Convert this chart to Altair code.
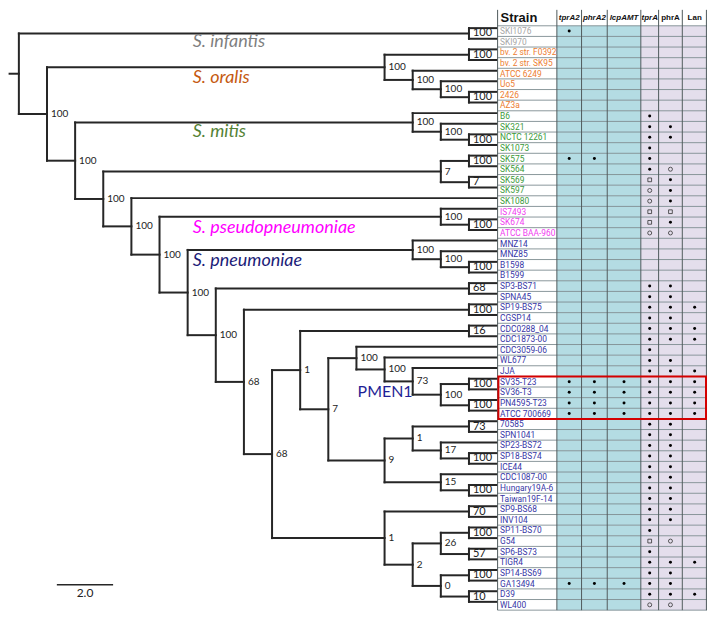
import altair as alt
import pandas as pd

# ------------------------------------------------------------------ data
STRAINS = [
    "SKI1076", "SKI970", "bv. 2 str. F0392", "bv. 2 str. SK95", "ATCC 6249", "Uo5",
    "2426", "AZ3a", "B6", "SK321", "NCTC 12261", "SK1073", "SK575", "SK564", "SK569",
    "SK597", "SK1080", "IS7493", "SK674", "ATCC BAA-960", "MNZ14", "MNZ85", "B1598",
    "B1599", "SP3-BS71", "SPNA45", "SP19-BS75", "CGSP14", "CDC0288_04", "CDC1873-00",
    "CDC3059-06", "WL677", "JJA", "SV35-T23", "SV36-T3", "PN4595-T23", "ATCC 700669",
    "70585", "SPN1041", "SP23-BS72", "SP18-BS74", "ICE44", "CDC1087-00",
    "Hungary19A-6", "Taiwan19F-14", "SP9-BS68", "INV104", "SP11-BS70", "G54",
    "SP6-BS73", "TIGR4", "SP14-BS69", "GA13494", "D39", "WL400",
]
SPECIES = ["S. infantis", "S. oralis", "S. mitis", "S. pseudopneumoniae", "S. pneumoniae"]
SPECIES_COUNTS = [2, 6, 9, 3, 35]

GENES = ["tprA2", "phrA2", "lcpAMT", "tprA", "phrA", "Lan"]
ITALIC_GENES = ["tprA2", "phrA2", "lcpAMT", "tprA"]
# x = filled dot, o = open circle, s = open square, . = absent
PRESENCE = [
    "x.....", "......", "......", "......", "......", "......", "......", "......",
    "...x..", "...xx.", "...xx.", "...x..", "xx.x..", "...xo.", "...sx.", "...ox.",
    "...ox.", "...ss.", "...sx.", "...oo.", "......", "......", "......", "......",
    "...xx.", "...xx.", "...xxx", "...xx.", "...xxx", "...xxx", "...x..", "...xx.",
    "...xxx", "xxxxxx", "xxxxxx", "xxxxxx", "xxxxxx", "...xx.", "...xx.", "...xx.",
    "...xx.", "...xx.", "...xx.", "...xx.", "...xx.", "...xx.", "...xx.", "...x..",
    "...so.", "...x..", "...xxx", "...xx.", "xxxxx.", "...xxx", "...oo.",
]

# tree: internal nodes (id, parent, depth, bootstrap support)
NODES = [
    ("R", None, 0, ""), ("inf", "R", 16, "100"), ("A", "R", 1, "100"),
    ("O1", "A", 13, "100"), ("or1", "O1", 16, "100"), ("O2", "O1", 14, "100"),
    ("O3", "O2", 15, "100"), ("or2", "O3", 16, "100"), ("B", "A", 2, "100"),
    ("M1", "B", 14, "100"), ("M2", "M1", 15, "100"), ("m1", "M2", 16, "100"),
    ("C", "B", 3, "100"), ("M3", "C", 15, "7"), ("m2", "M3", 16, "100"),
    ("m3", "M3", 16, "7"), ("D", "C", 4, "100"), ("E", "D", 5, "100"),
    ("P", "E", 15, "100"), ("p", "P", 16, "100"), ("F", "E", 6, "100"),
    ("N1", "F", 14, "100"), ("N2", "N1", 15, "100"), ("n", "N2", 16, "100"),
    ("G", "F", 7, "100"), ("g", "G", 16, "68"), ("H", "G", 8, "68"),
    ("h", "H", 16, "100"), ("I", "H", 9, "68"), ("J", "I", 10, "1"),
    ("j", "J", 16, "16"), ("L", "J", 11, "7"), ("J1", "L", 12, "100"),
    ("J2", "J1", 13, "100"), ("J3", "J2", 14, "73"), ("J4", "J3", 15, "100"),
    ("pm1", "J4", 16, "100"), ("pm2", "J4", 16, "100"), ("Q", "L", 13, "9"),
    ("Q1", "Q", 14, "1"), ("q1", "Q1", 16, "73"), ("Q3", "Q1", 15, "17"),
    ("q3", "Q3", 16, "100"), ("Q2", "Q", 15, "15"), ("q2", "Q2", 16, "100"),
    ("K", "I", 13, "1"), ("k", "K", 16, "70"), ("K1", "K", 14, "2"),
    ("K2", "K1", 15, "26"), ("k2a", "K2", 16, "100"), ("k2b", "K2", 16, "57"),
    ("K3", "K1", 15, "0"), ("k3a", "K3", 16, "100"), ("k3b", "K3", 16, "10"),
]
# parent node of each strain (tip), in row order
LEAF_PARENT = [
    "inf", "inf", "or1", "or1", "O2", "O3", "or2", "or2", "M1", "M2", "m1", "m1",
    "m2", "m2", "m3", "m3", "D", "P", "p", "p", "N1", "N2", "n", "n", "g", "g",
    "h", "h", "j", "j", "J1", "J2", "J3", "pm1", "pm1", "pm2", "pm2", "q1", "q1",
    "Q3", "q3", "q3", "Q2", "q2", "q2", "k", "k", "k2a", "k2a", "k2b", "k2b",
    "k3a", "k3a", "k3b", "k3b",
]
TIP_DEPTH = 17

# annotations (in tree units: depth, row)
SPECIES_LABEL_ROWS = [2.34, 5.68, 10.78, 19.77, 22.92]
SPECIES_LABEL_DEPTH = 6.18
CLADE_LABEL = ["PMEN1"]
CLADE_ROW = [35.25]
CLADE_DEPTH = [12.04]
HIGHLIGHT = ["SV35-T23", "ATCC 700669"]
SCALE_BAR_LENGTH = 2.0
SCALE_BAR_START = 1.35
SCALE_BAR_ROW = 53.4

# ------------------------------------------------------------------ style
STRAIN_COLORS = ["#a6a6a6", "#ed7d31", "#3a9a3a", "#f03cf0", "#3636a6"]
LABEL_COLORS = ["#7f7f7f", "#c55a11", "#548235", "#ff00ff", "#1c1c78"]
CLADE_COLOR = "#1f1f96"
LINE_COLOR = "#262626"
COL_WIDTHS = [60, 25, 26, 34, 18, 24, 25]
COL_FILLS = ["#ffffff"] + ["#b4dce3"] * 3 + ["#e4deec"] * 3
NARROW = "Roboto, sans-serif"
SANS = "Liberation Sans, Arial, sans-serif"
CAL = "Lato, Calibri, Carlito, sans-serif"

# ------------------------------------------------------------------ tree geometry
depth = {n: d for n, p, d, s in NODES}
children = {n: [] for n, p, d, s in NODES}
for n, p, d, s in NODES:
    if p is not None:
        children[p].append(("node", n))
for i, par in enumerate(LEAF_PARENT):
    children[par].append(("leaf", i + 1))
assert len(LEAF_PARENT) == len(STRAINS) == len(PRESENCE)

ycache = {}


def y_of(kind, key):
    if kind == "leaf":
        return float(key)
    if key not in ycache:
        ys = [y_of(k, c) for k, c in children[key]]
        ycache[key] = (min(ys) + max(ys)) / 2.0
    return ycache[key]


segs = []
labels = []
for n, p, d, s in NODES:
    ys = [y_of(k, c) for k, c in children[n]]
    segs.append(dict(x=d, x2=d, y=min(ys), y2=max(ys)))
    for k, c in children[n]:
        cd = TIP_DEPTH if k == "leaf" else depth[c]
        cy = y_of(k, c)
        segs.append(dict(x=d, x2=cd, y=cy, y2=cy))
    if s != "":
        tipnode = all(k == "leaf" for k, c in children[n])
        labels.append(dict(x=d, y=y_of("node", n), label=s, tip=tipnode))
segs.append(dict(x=-0.33, x2=0, y=y_of("node", "R"), y2=y_of("node", "R")))
seg_df = pd.DataFrame(segs)
lab_df = pd.DataFrame(labels)

tree_x = alt.Scale(domain=[-0.351, 17.018], nice=False, zero=False)
tree_y = alt.Scale(domain=[-0.72, 55.78], reverse=True, nice=False, zero=False)
X = lambda f: alt.X(f, scale=tree_x, axis=None)
Y = lambda f: alt.Y(f, scale=tree_y, axis=None)

branches = alt.Chart(seg_df).mark_rule(
    color=LINE_COLOR, strokeWidth=2, strokeCap="square"
).encode(x=X("x:Q"), x2="x2:Q", y=Y("y:Q"), y2="y2:Q")

node_labels = alt.Chart(lab_df).transform_filter("!datum.tip").mark_text(
    align="left", baseline="middle", dx=4, font=CAL, fontSize=10, color="#222222"
).encode(x=X("x:Q"), y=Y("y:Q"), text="label:N")

tip_labels = alt.Chart(lab_df).transform_filter("datum.tip").mark_text(
    align="left", baseline="middle", dx=4, font=CAL, fontSize=11, color="#222222"
).encode(x=X("x:Q"), y=Y("y:Q"), text="label:N")

sp_df = pd.DataFrame(dict(name=SPECIES, row=SPECIES_LABEL_ROWS,
                          d=[SPECIES_LABEL_DEPTH] * len(SPECIES)))
species_text = alt.Chart(sp_df).mark_text(
    align="left", baseline="middle", font=CAL, fontStyle="italic", fontSize=18
).encode(
    x=X("d:Q"), y=Y("row:Q"), text="name:N",
    color=alt.Color("name:N", scale=alt.Scale(domain=SPECIES, range=LABEL_COLORS), legend=None),
)

clade_df = pd.DataFrame(dict(name=CLADE_LABEL, row=CLADE_ROW, d=CLADE_DEPTH))
clade_text = alt.Chart(clade_df).mark_text(
    align="left", baseline="middle", font=CAL, fontSize=16, color=CLADE_COLOR
).encode(x=X("d:Q"), y=Y("row:Q"), text="name:N")

bar_df = pd.DataFrame(dict(x=[SCALE_BAR_START], x2=[SCALE_BAR_START + SCALE_BAR_LENGTH],
                           y=[SCALE_BAR_ROW], mid=[SCALE_BAR_START + SCALE_BAR_LENGTH / 2],
                           label=[f"{SCALE_BAR_LENGTH:.1f}"]))
scale_bar = alt.Chart(bar_df).mark_rule(color=LINE_COLOR, strokeWidth=1.5).encode(
    x=X("x:Q"), x2="x2:Q", y=Y("y:Q"))
scale_text = alt.Chart(bar_df).mark_text(
    baseline="middle", dy=8, font=CAL, fontSize=12, color="#222222"
).encode(x=X("mid:Q"), y=Y("y:Q"), text="label:N")

tree = alt.layer(branches, node_labels, tip_labels, species_text, clade_text,
                 scale_bar, scale_text).properties(width=490, height=602)

# ------------------------------------------------------------------ table geometry
edges = [0]
for w in COL_WIDTHS:
    edges.append(edges[-1] + w)
TOTAL = edges[-1]
HEADER_TOP = -1.0
NROW = len(STRAINS)

cells = []
for c in range(len(COL_WIDTHS)):
    cells.append(dict(x0=edges[c], x1=edges[c + 1], y0=HEADER_TOP, y1=0.5, fill="#ffffff"))
    for r in range(1, NROW + 1):
        cells.append(dict(x0=edges[c], x1=edges[c + 1], y0=r - 0.5, y1=r + 0.5, fill=COL_FILLS[c]))
cell_df = pd.DataFrame(cells)

tab_x = alt.Scale(domain=[0, TOTAL], nice=False, zero=False)
tab_y = alt.Scale(domain=[HEADER_TOP, NROW + 0.5], reverse=True, nice=False, zero=False)
TX = lambda f: alt.X(f, scale=tab_x, axis=None)
TY = lambda f: alt.Y(f, scale=tab_y, axis=None)

cell_layer = alt.Chart(cell_df).mark_rect(strokeWidth=0).encode(
    x=TX("x0:Q"), x2="x1:Q", y=TY("y0:Q"), y2="y1:Q", fill=alt.Fill("fill:N", scale=None))

hl_df = pd.DataFrame(dict(y=[r + 0.5 for r in range(0, NROW + 1)], x=0, x2=TOTAL))
hlines = alt.Chart(hl_df).mark_rule(color="#7d8c90", strokeWidth=0.9).encode(
    x=TX("x:Q"), x2="x2:Q", y=TY("y:Q"))

vl_df = pd.DataFrame(dict(x=[e if e < TOTAL else TOTAL - 0.6 for e in edges],
                          y=HEADER_TOP, y2=NROW + 0.5))
vlines = alt.Chart(vl_df).mark_rule(color="#4f5a5c", strokeWidth=1).encode(
    x=TX("x:Q"), y=TY("y:Q"), y2="y2:Q")

strain_species = []
for sp, cnt in zip(SPECIES, SPECIES_COUNTS):
    strain_species += [sp] * cnt
st_df = pd.DataFrame(dict(strain=STRAINS, sp=strain_species,
                          row=list(range(1, NROW + 1)), x=0))
strain_text = alt.Chart(st_df).mark_text(
    align="left", baseline="middle", dx=2.5, font=NARROW, fontSize=8.4
).encode(
    x=TX("x:Q"), y=TY("row:Q"), text="strain:N",
    color=alt.Color("sp:N", scale=alt.Scale(domain=SPECIES, range=STRAIN_COLORS), legend=None),
)

head_df = pd.DataFrame(dict(
    label=GENES,
    x=[(edges[i + 1] + edges[i + 2]) / 2 for i in range(len(GENES))],
    y=(HEADER_TOP + 0.5) / 2,
    italic=[g in ITALIC_GENES for g in GENES],
))
head_it = alt.Chart(head_df).transform_filter("datum.italic").mark_text(
    baseline="middle", font=SANS, fontSize=8, fontWeight="bold", fontStyle="italic",
    color="#111111").encode(x=TX("x:Q"), y=TY("y:Q"), text="label:N")
head_up = alt.Chart(head_df).transform_filter("!datum.italic").mark_text(
    baseline="middle", font=SANS, fontSize=8, fontWeight="bold",
    color="#111111").encode(x=TX("x:Q"), y=TY("y:Q"), text="label:N")
strain_head = alt.Chart(pd.DataFrame(dict(label=["Strain"], x=[0], y=[(HEADER_TOP + 0.5) / 2]))
                        ).mark_text(align="left", baseline="middle", dx=3, font=SANS,
                                    fontSize=13, fontWeight="bold", color="#111111"
                                    ).encode(x=TX("x:Q"), y=TY("y:Q"), text="label:N")

marks = []
for r, code in enumerate(PRESENCE, start=1):
    for gi, ch in enumerate(code):
        if ch != ".":
            marks.append(dict(row=r, x=(edges[gi + 1] + edges[gi + 2]) / 2, kind=ch))
mk_df = pd.DataFrame(marks)
dots = alt.Chart(mk_df).transform_filter("datum.kind == 'x'").mark_point(
    shape="circle", filled=True, size=9, color="#000000", opacity=1).encode(
    x=TX("x:Q"), y=TY("row:Q"))
circles = alt.Chart(mk_df).transform_filter("datum.kind == 'o'").mark_point(
    shape="circle", filled=False, size=16, strokeWidth=0.8, color="#333333", opacity=1).encode(
    x=TX("x:Q"), y=TY("row:Q"))
squares = alt.Chart(mk_df).transform_filter("datum.kind == 's'").mark_point(
    shape="square", filled=False, size=14, strokeWidth=0.8, color="#333333", opacity=1).encode(
    x=TX("x:Q"), y=TY("row:Q"))

r0 = STRAINS.index(HIGHLIGHT[0]) + 1
r1 = STRAINS.index(HIGHLIGHT[1]) + 1
box_df = pd.DataFrame(dict(x0=[0.8], x1=[TOTAL - 1.0], y0=[r0 - 0.5], y1=[r1 + 0.5]))
red_box = alt.Chart(box_df).mark_rect(fillOpacity=0, stroke="#d40000", strokeWidth=2).encode(
    x=TX("x0:Q"), x2="x1:Q", y=TY("y0:Q"), y2="y1:Q")

table = alt.layer(cell_layer, hlines, vlines, strain_text, head_it, head_up, strain_head,
                  dots, circles, squares, red_box).properties(width=210, height=602)

chart = alt.hconcat(tree, table, spacing=0, bounds="flush", padding=0).resolve_scale(
    x="independent", y="independent", color="independent"
).configure_view(stroke=None).properties(background="#ffffff")

chart.save("out.html", embed_options={"renderer": "svg", "actions": False})
